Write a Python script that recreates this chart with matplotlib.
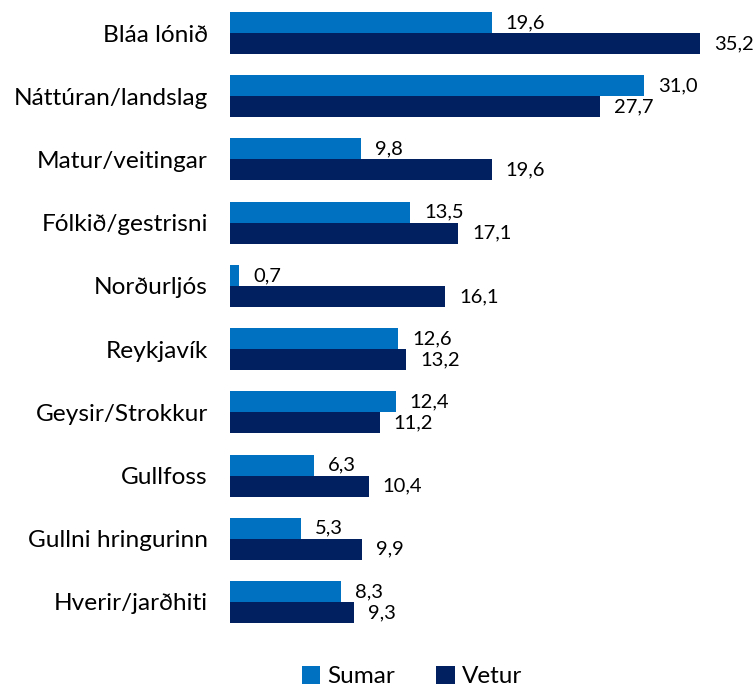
import matplotlib
matplotlib.use("Agg")
import matplotlib.pyplot as plt
import numpy as np

categories = ["Bláa lónið", "Náttúran/landslag", "Matur/veitingar", "Fólkið/gestrisni",
              "Norðurljós", "Reykjavík", "Geysir/Strokkur", "Gullfoss",
              "Gullni hringurinn", "Hverir/jarðhiti"]
sumar = [19.6, 31.0, 9.8, 13.5, 0.7, 12.6, 12.4, 6.3, 5.3, 8.3]
vetur = [35.2, 27.7, 19.6, 17.1, 16.1, 13.2, 11.2, 10.4, 9.9, 9.3]

plt.rcParams['font.family'] = ['Lato', 'DejaVu Sans']

fig = plt.figure(figsize=(7.54, 6.91), dpi=100)
ax = fig.add_axes([230/754, 1 - 633.6/691, 470/754, 632.2/691])

y = np.arange(len(categories))
h = 0.332
b1 = ax.barh(y - h/2, sumar, height=h, color="#0070C0", label="Sumar")
b2 = ax.barh(y + h/2, vetur, height=h, color="#002060", label="Vetur")

def fmt(v):
    return f"{v:.1f}".replace(".", ",")

for yy, v in zip(y - h/2, sumar):
    ax.annotate(fmt(v), (v, yy), xytext=(10, 0), textcoords="offset points",
                va="center", ha="left", fontsize=14.5, color="#000000", annotation_clip=False)
for yy, v in zip(y + h/2, vetur):
    ax.annotate(fmt(v), (v, yy), xytext=(10, 0), textcoords="offset points",
                va="center", ha="left", fontsize=14.5, color="#000000", annotation_clip=False)

ax.set_xlim(0, 35.2)
ax.set_ylim(len(categories) - 0.5, -0.5)
ax.set_yticks(y)
ax.set_yticklabels(categories, fontsize=17.6)
ax.tick_params(axis="y", length=0, pad=16)
ax.set_xticks([])
for s in ax.spines.values():
    s.set_visible(False)

fig.legend(handles=[b1, b2], loc="lower center", bbox_to_anchor=(412/754, -0.026), ncol=2,
           frameon=False, fontsize=17.5, handlelength=0.75, handleheight=0.75,
           columnspacing=1.7, handletextpad=0.3)

fig.savefig("out.png", dpi=100)
